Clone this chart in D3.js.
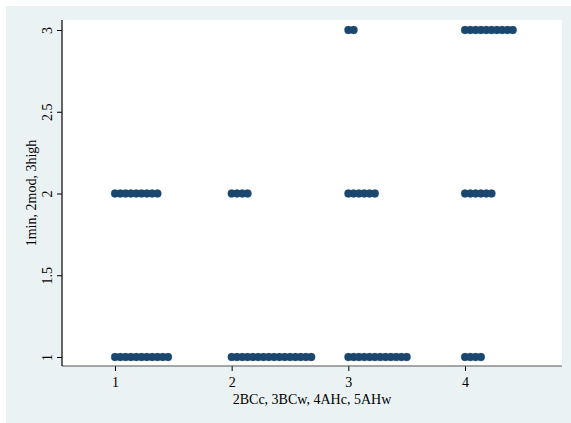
<!DOCTYPE html>
<html>
<head>
<meta charset="utf-8">
<script src="https://cdn.jsdelivr.net/npm/d3@7"></script>
<style>
  body { margin: 0; background: #fff; }
  text { font-family: "Liberation Serif", "Times New Roman", serif; fill: #000; }
</style>
</head>
<body>
<div id="chart"></div>
<script>
// categories on x, levels on y, dot counts per category
var categories = [1, 2, 3, 4];
var levels = [1, 2, 3];
var countsLevel1 = [11, 16, 12, 4];
var countsLevel2 = [9, 4, 6, 6];
var countsLevel3 = [0, 0, 2, 10];
var xTicks = [1, 2, 3, 4];
var yTicks = [1, 1.5, 2, 2.5, 3];
var xTitle = "2BCc, 3BCw, 4AHc, 5AHw";
var yTitle = "1min, 2mod, 3high";

(function() {
  var width = 571, height = 423;
  var plot = { left: 62, top: 20, right: 562, bottom: 366 };
  var step = 0.0455; // horizontal stacking step, x units

  var svg = d3.select("#chart").append("svg")
    .attr("width", width)
    .attr("height", height);

  // outer graph region
  svg.append("rect")
    .attr("x", 6).attr("y", 6)
    .attr("width", width - 6).attr("height", height - 6)
    .attr("fill", "#eaf2f3");

  svg.append("rect")
    .attr("x", plot.left).attr("y", plot.top)
    .attr("width", plot.right - plot.left)
    .attr("height", plot.bottom - plot.top)
    .attr("fill", "#fff");

  var x = d3.scaleLinear().domain([1, 4]).range([115, 465]);
  var y = d3.scaleLinear().domain([1, 3]).range([357, 30]);

  var allCounts = [countsLevel1, countsLevel2, countsLevel3];
  var points = [];
  levels.forEach(function(lv, li) {
    categories.forEach(function(c, ci) {
      for (var i = 0; i < allCounts[li][ci]; i++) {
        points.push({ x: c + i * step, y: lv });
      }
    });
  });

  // axes
  var xAxis = svg.append("g")
    .attr("transform", "translate(0," + plot.bottom + ")")
    .call(d3.axisBottom(x).tickValues(xTicks).tickSize(5).tickPadding(3).tickFormat(d3.format("d")));
  xAxis.select(".domain").remove();
  xAxis.append("line")
    .attr("x1", plot.left).attr("x2", plot.right)
    .attr("stroke", "#555").attr("stroke-width", 1.2);
  xAxis.selectAll("text").style("font-size", "14px").attr("fill", "#000")
    .attr("dy", "0.95em");

  var yAxis = svg.append("g")
    .attr("transform", "translate(" + plot.left + ",0)")
    .call(d3.axisLeft(y).tickValues(yTicks).tickSize(5).tickFormat(d3.format("")));
  yAxis.select(".domain").remove();
  yAxis.append("line")
    .attr("y1", plot.top).attr("y2", plot.bottom)
    .attr("stroke", "#000").attr("stroke-width", 1.2);
  yAxis.selectAll("text")
    .style("font-size", "14px").attr("fill", "#000")
    .attr("text-anchor", "middle")
    .attr("x", null).attr("dy", null)
    .attr("transform", "translate(-10,0) rotate(-90)");

  svg.selectAll(".dot")
    .data(points)
    .enter().append("circle")
    .attr("class", "dot")
    .attr("cx", function(d) { return x(d.x); })
    .attr("cy", function(d) { return y(d.y); })
    .attr("r", 3.9)
    .attr("fill", "#1a476f")
    .attr("stroke", "#1a476f")
    .attr("stroke-width", 0.3);

  svg.append("text")
    .attr("x", (plot.left + plot.right) / 2)
    .attr("y", 404)
    .attr("text-anchor", "middle")
    .style("font-size", "14px")
    .text(xTitle);

  svg.append("text")
    .attr("transform", "translate(36," + ((plot.top + plot.bottom) / 2) + ") rotate(-90)")
    .attr("text-anchor", "middle")
    .style("font-size", "14px")
    .text(yTitle);
})();
</script>
</body>
</html>
